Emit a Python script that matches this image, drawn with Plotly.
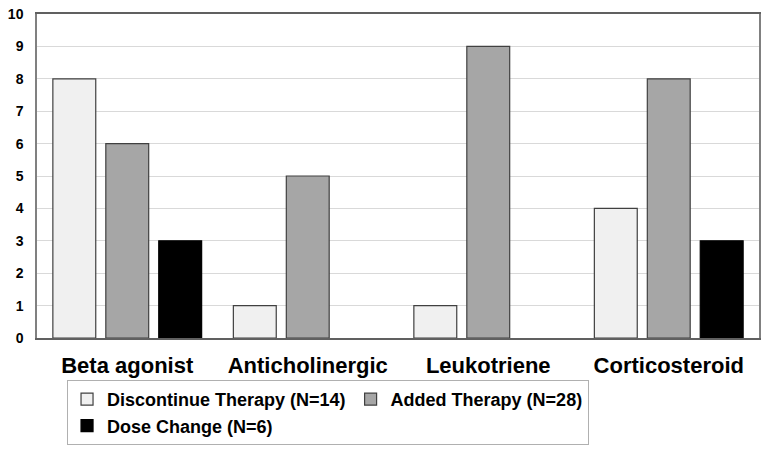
import plotly.graph_objects as go

categories = ["Beta agonist", "Anticholinergic", "Leukotriene", "Corticosteroid"]
discontinue = [8, 1, 1, 4]
added = [6, 5, 9, 8]
dose_change = [3, 0, 0, 3]
series_names = ["Discontinue Therapy (N=14)", "Added Therapy (N=28)", "Dose Change (N=6)"]
legend_groups = ["col1", "col2", "col1"]
y_ticks = list(range(0, 11))

colors = ["#f0f0f0", "#a6a6a6", "#000000"]
outline = ["#404040", "#404040", "#000000"]

fig = go.Figure()
for name, vals, c, oc, grp in zip(series_names, [discontinue, added, dose_change], colors, outline, legend_groups):
    fig.add_trace(go.Bar(
        x=categories, y=vals, name=name, legendgroup=grp,
        marker=dict(color=c, line=dict(color=oc, width=[1.2 if v > 0 else 0 for v in vals])),
    ))

bold_font = "Arial, Liberation Sans, sans-serif"
fig.update_layout(
    width=772, height=451,
    margin=dict(l=37, r=13, t=14, b=113, autoexpand=False),
    paper_bgcolor="white", plot_bgcolor="white",
    barmode="group", bargap=0.12, bargroupgap=0.19,
    font=dict(family=bold_font, color="black"),
    legend=dict(
        orientation="h", traceorder="grouped",
        x=0.0416, y=-0.1296, xanchor="left", yanchor="top",
        bordercolor="#b0b0b0", borderwidth=1,
        font=dict(family=bold_font, size=18, weight="bold", color="black"),
        itemwidth=30, tracegroupgap=0,
    ),
    xaxis=dict(
        automargin=False,
        showline=True, linecolor="#606060", linewidth=1.5, mirror=True,
        tickfont=dict(size=22, weight="bold", family=bold_font, color="black"),
        ticks="", showgrid=False, ticklabelstandoff=7,
    ),
    yaxis=dict(
        automargin=False,
        range=[0, 10], tickvals=y_ticks,
        showline=True, linecolor="#808080", linewidth=1.5, mirror=True,
        gridcolor="#d9d9d9", gridwidth=1,
        tickfont=dict(size=14, weight="bold", family=bold_font, color="black"),
        ticks="", zeroline=False, ticklabelstandoff=9,
    ),
)

fig.write_html("out.html", config={"displayModeBar": False},
               post_script="document.body.style.margin='0px';")
